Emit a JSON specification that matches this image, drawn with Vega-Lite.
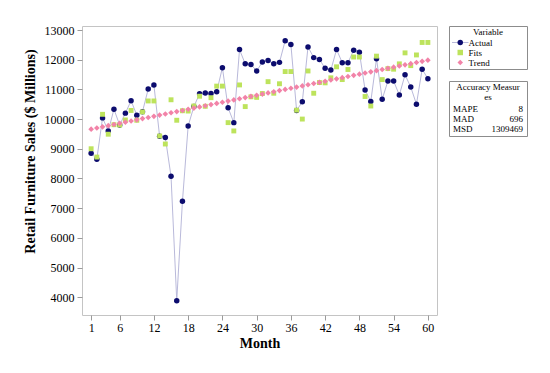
{
  "$schema": "https://vega.github.io/schema/vega-lite/v6.json",
  "background": "white",
  "padding": {"left": 22, "top": 23, "right": 5, "bottom": 5},
  "bounds": "flush",
  "spacing": 12,
  "config": {
    "font": "Liberation Serif",
    "view": {"stroke": "#c4c4c4"},
    "axis": {
      "labelFont": "Liberation Serif",
      "labelFontSize": 12,
      "labelColor": "#000000",
      "titleFont": "Liberation Serif",
      "titleFontSize": 14,
      "titleFontWeight": "bold",
      "titleColor": "#000000",
      "domain": false,
      "grid": false,
      "tickColor": "#9a9a9a",
      "tickSize": 5
    },
    "title": {"font": "Liberation Serif", "fontSize": 9, "fontWeight": "normal", "color": "#000000"}
  },
  "hconcat": [
    {
      "width": 355,
      "height": 289,
      "data": {
        "values": [
          {"Month": 1, "Actual": 8850, "Fits": 9000, "Trend": 9660},
          {"Month": 2, "Actual": 8650, "Fits": 8720, "Trend": 9699},
          {"Month": 3, "Actual": 10040, "Fits": 10160, "Trend": 9739},
          {"Month": 4, "Actual": 9600, "Fits": 9490, "Trend": 9778},
          {"Month": 5, "Actual": 10330, "Fits": 9810, "Trend": 9818},
          {"Month": 6, "Actual": 9800, "Fits": 9800, "Trend": 9857},
          {"Month": 7, "Actual": 10200, "Fits": 9970, "Trend": 9896},
          {"Month": 8, "Actual": 10620, "Fits": 10290, "Trend": 9936},
          {"Month": 9, "Actual": 10130, "Fits": 9960, "Trend": 9975},
          {"Month": 10, "Actual": 10250, "Fits": 10240, "Trend": 10015},
          {"Month": 11, "Actual": 11010, "Fits": 10610, "Trend": 10054},
          {"Month": 12, "Actual": 11150, "Fits": 10610, "Trend": 10093},
          {"Month": 13, "Actual": 9420, "Fits": 9430, "Trend": 10133},
          {"Month": 14, "Actual": 9380, "Fits": 9160, "Trend": 10172},
          {"Month": 15, "Actual": 8070, "Fits": 10650, "Trend": 10212},
          {"Month": 16, "Actual": 3880, "Fits": 9960, "Trend": 10251},
          {"Month": 17, "Actual": 7230, "Fits": 10280, "Trend": 10290},
          {"Month": 18, "Actual": 9770, "Fits": 10270, "Trend": 10330},
          {"Month": 19, "Actual": 10420, "Fits": 10440, "Trend": 10369},
          {"Month": 20, "Actual": 10850, "Fits": 10770, "Trend": 10409},
          {"Month": 21, "Actual": 10880, "Fits": 10430, "Trend": 10448},
          {"Month": 22, "Actual": 10860, "Fits": 10720, "Trend": 10487},
          {"Month": 23, "Actual": 10920, "Fits": 11110, "Trend": 10527},
          {"Month": 24, "Actual": 11730, "Fits": 11110, "Trend": 10566},
          {"Month": 25, "Actual": 10380, "Fits": 9880, "Trend": 10606},
          {"Month": 26, "Actual": 9880, "Fits": 9600, "Trend": 10645},
          {"Month": 27, "Actual": 12340, "Fits": 11150, "Trend": 10684},
          {"Month": 28, "Actual": 11860, "Fits": 10420, "Trend": 10724},
          {"Month": 29, "Actual": 11840, "Fits": 10750, "Trend": 10763},
          {"Month": 30, "Actual": 11620, "Fits": 10730, "Trend": 10803},
          {"Month": 31, "Actual": 11920, "Fits": 10860, "Trend": 10842},
          {"Month": 32, "Actual": 11970, "Fits": 11260, "Trend": 10881},
          {"Month": 33, "Actual": 11860, "Fits": 10870, "Trend": 10921},
          {"Month": 34, "Actual": 11910, "Fits": 11190, "Trend": 10960},
          {"Month": 35, "Actual": 12640, "Fits": 11600, "Trend": 11000},
          {"Month": 36, "Actual": 12510, "Fits": 11600, "Trend": 11039},
          {"Month": 37, "Actual": 10290, "Fits": 10300, "Trend": 11078},
          {"Month": 38, "Actual": 10580, "Fits": 10000, "Trend": 11118},
          {"Month": 39, "Actual": 12430, "Fits": 11620, "Trend": 11157},
          {"Month": 40, "Actual": 12070, "Fits": 10870, "Trend": 11197},
          {"Month": 41, "Actual": 12010, "Fits": 11230, "Trend": 11236},
          {"Month": 42, "Actual": 11710, "Fits": 11220, "Trend": 11275},
          {"Month": 43, "Actual": 11650, "Fits": 11390, "Trend": 11315},
          {"Month": 44, "Actual": 12340, "Fits": 11760, "Trend": 11354},
          {"Month": 45, "Actual": 11900, "Fits": 11330, "Trend": 11394},
          {"Month": 46, "Actual": 11900, "Fits": 11670, "Trend": 11433},
          {"Month": 47, "Actual": 12320, "Fits": 12090, "Trend": 11472},
          {"Month": 48, "Actual": 12250, "Fits": 12090, "Trend": 11512},
          {"Month": 49, "Actual": 10980, "Fits": 10760, "Trend": 11551},
          {"Month": 50, "Actual": 10590, "Fits": 10440, "Trend": 11591},
          {"Month": 51, "Actual": 12030, "Fits": 12120, "Trend": 11630},
          {"Month": 52, "Actual": 10670, "Fits": 11330, "Trend": 11669},
          {"Month": 53, "Actual": 11280, "Fits": 11700, "Trend": 11709},
          {"Month": 54, "Actual": 11280, "Fits": 11680, "Trend": 11748},
          {"Month": 55, "Actual": 10810, "Fits": 11860, "Trend": 11788},
          {"Month": 56, "Actual": 11490, "Fits": 12230, "Trend": 11827},
          {"Month": 57, "Actual": 11080, "Fits": 11800, "Trend": 11866},
          {"Month": 58, "Actual": 10500, "Fits": 12160, "Trend": 11906},
          {"Month": 59, "Actual": 11680, "Fits": 12580, "Trend": 11945},
          {"Month": 60, "Actual": 11360, "Fits": 12580, "Trend": 11985}
        ]
      },
      "transform": [{"fold": ["Actual", "Fits", "Trend"], "as": ["Variable", "Sales"]}],
      "encoding": {
        "x": {
          "field": "Month",
          "type": "quantitative",
          "scale": {"domain": [-0.6, 61.6], "nice": false, "zero": false},
          "axis": {"values": [1, 6, 12, 18, 24, 30, 36, 42, 48, 54, 60], "title": "Month", "labelPadding": 2, "titlePadding": 3}
        },
        "y": {
          "field": "Sales",
          "type": "quantitative",
          "scale": {"domain": [3400, 13135], "nice": false, "zero": false},
          "axis": {"values": [4000, 5000, 6000, 7000, 8000, 9000, 10000, 11000, 12000, 13000], "format": "d", "title": "Retail Furniture Sales ($ Millions)", "labelPadding": 3, "titlePadding": 7, "titleY": 125}
        }
      },
      "layer": [
        {
          "transform": [{"filter": "datum.Variable === 'Actual'"}],
          "mark": {"type": "line", "color": "#b9b9da", "strokeWidth": 1}
        },
        {
          "transform": [{"filter": "datum.Variable === 'Actual'"}],
          "mark": {"type": "point", "filled": true, "size": 30, "opacity": 1},
          "encoding": {
            "color": {"field": "Variable", "type": "nominal", "scale": {"domain": ["Actual", "Fits", "Trend"], "range": ["#0c0c6e", "#bde35c", "#f283a8"]}, "legend": null},
            "shape": {"field": "Variable", "type": "nominal", "scale": {"domain": ["Actual", "Fits", "Trend"], "range": ["circle", "square", "diamond"]}, "legend": null}
          }
        },
        {
          "transform": [{"filter": "datum.Variable === 'Fits'"}],
          "mark": {"type": "point", "filled": true, "size": 24, "opacity": 1},
          "encoding": {
            "color": {"field": "Variable", "type": "nominal", "legend": null},
            "shape": {"field": "Variable", "type": "nominal", "legend": null}
          }
        },
        {
          "transform": [{"filter": "datum.Variable === 'Trend'"}],
          "mark": {"type": "point", "filled": true, "size": 32, "opacity": 1},
          "encoding": {
            "color": {"field": "Variable", "type": "nominal", "legend": null},
            "shape": {"field": "Variable", "type": "nominal", "legend": null}
          }
        }
      ]
    },
    {
      "bounds": "flush",
      "spacing": 12,
      "vconcat": [
        {
          "width": 78,
          "height": 43,
          "view": {"stroke": "#8c8c8c"},
          "title": {"text": "Variable", "offset": -11, "anchor": "middle"},
          "data": {"values": [{"Variable": "Actual"}, {"Variable": "Fits"}, {"Variable": "Trend"}]},
          "encoding": {
            "y": {"field": "Variable", "type": "nominal", "axis": null, "scale": {"type": "point", "padding": 0, "domain": ["Actual", "Fits", "Trend"], "range": [16.5, 36.5]}}
          },
          "layer": [
            {
              "transform": [{"filter": "datum.Variable === 'Actual'"}],
              "mark": {"type": "rule", "color": "#b9b9da", "strokeWidth": 1},
              "encoding": {
                "x": {"datum": "start", "type": "nominal", "axis": null, "scale": {"type": "point", "padding": 0, "domain": ["start", "symbol", "label"], "range": [3, 19.5]}},
                "x2": {"datum": "label"}
              }
            },
            {
              "mark": {"type": "point", "filled": true, "size": 30, "opacity": 1},
              "encoding": {
                "x": {"datum": "symbol", "type": "nominal"},
                "color": {"field": "Variable", "type": "nominal", "legend": null},
                "shape": {"field": "Variable", "type": "nominal", "legend": null}
              }
            },
            {
              "mark": {"type": "text", "align": "left", "baseline": "middle", "fontSize": 9, "color": "#000000"},
              "encoding": {
                "x": {"datum": "label", "type": "nominal"},
                "text": {"field": "Variable"}
              }
            }
          ]
        },
        {
          "width": 78,
          "height": 55,
          "view": {"stroke": "#8c8c8c"},
          "title": {"text": ["Accuracy Measur", "es"], "offset": -21, "anchor": "middle", "lineHeight": 10},
          "data": {"values": [{"Measure": "MAPE", "Value": "8"}, {"Measure": "MAD", "Value": "696"}, {"Measure": "MSD", "Value": "1309469"}]},
          "encoding": {
            "y": {"field": "Measure", "type": "nominal", "axis": null, "scale": {"type": "point", "padding": 0, "domain": ["MAPE", "MAD", "MSD"], "range": [27.5, 47.5]}}
          },
          "layer": [
            {
              "mark": {"type": "text", "align": "left", "baseline": "middle", "fontSize": 9, "color": "#000000"},
              "encoding": {
                "x": {"datum": "name", "type": "nominal", "axis": null, "scale": {"type": "point", "padding": 0, "domain": ["name", "value"], "range": [4, 74]}},
                "text": {"field": "Measure"}
              }
            },
            {
              "mark": {"type": "text", "align": "right", "baseline": "middle", "fontSize": 9, "color": "#000000"},
              "encoding": {
                "x": {"datum": "value", "type": "nominal"},
                "text": {"field": "Value"}
              }
            }
          ]
        }
      ]
    }
  ]
}
